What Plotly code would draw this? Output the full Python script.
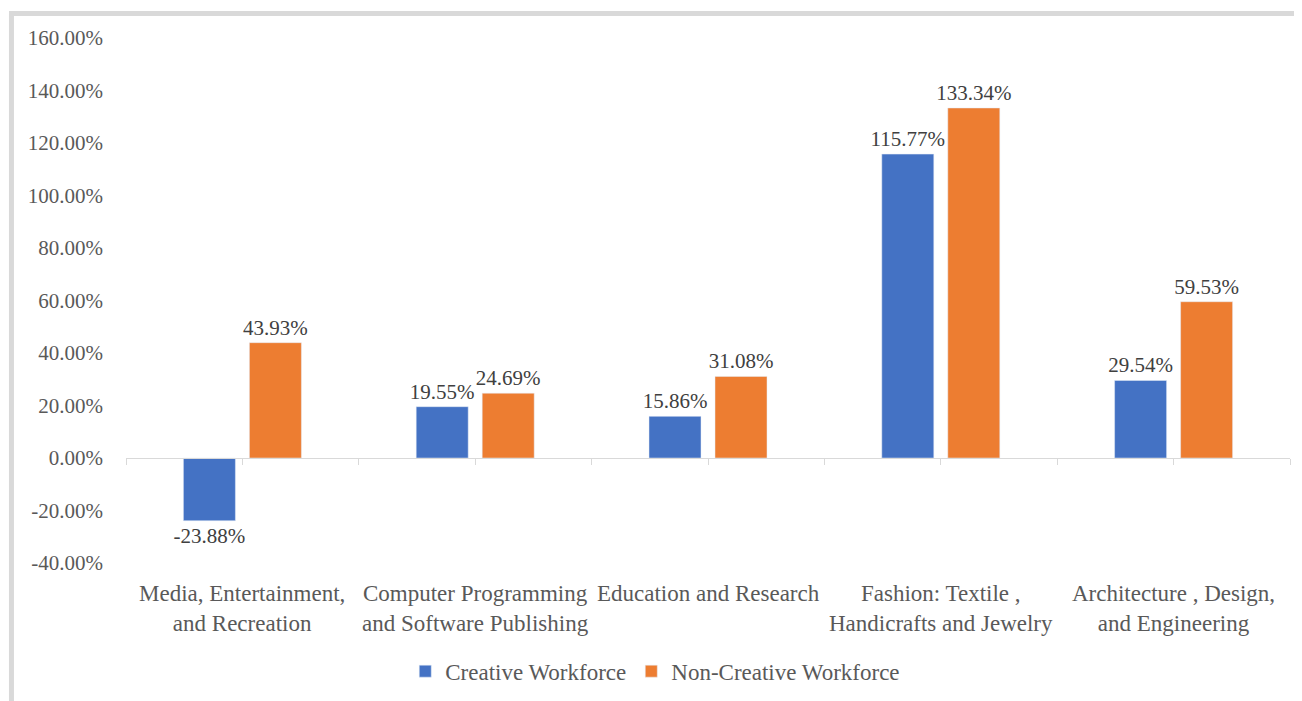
"""
Grouped bar chart: change in creative vs non-creative workforce by sector.
"""
import plotly.graph_objects as go

categories = [
    "Media, Entertainment,<br>and Recreation",
    "Computer Programming<br>and Software Publishing",
    "Education and Research",
    "Fashion: Textile ,<br>Handicrafts and Jewelry",
    "Architecture , Design,<br>and Engineering",
]
creative = [-23.88, 19.55, 15.86, 115.77, 29.54]
non_creative = [43.93, 24.69, 31.08, 133.34, 59.53]
y_ticks = [-40, -20, 0, 20, 40, 60, 80, 100, 120, 140, 160]
y_tick_labels = [f"{v:.2f}%" for v in y_ticks]

FONT = "Liberation Serif"
GREY = "#595959"
LINE = "#d9d9d9"

pos = list(range(len(categories)))

fig = go.Figure()
fig.add_trace(go.Bar(
    x=pos, y=creative, name="Creative Workforce",
    marker_color="#4472c4",
    text=[f"{v:.2f}%" for v in creative],
))
fig.add_trace(go.Bar(
    x=pos, y=non_creative, name="Non-Creative Workforce",
    marker_color="#ed7d31",
    text=[f"{v:.2f}%" for v in non_creative],
))
fig.update_traces(
    textposition="outside", cliponaxis=False, constraintext="none",
    textfont=dict(family=FONT, size=21, color="#404040"),
    hoverinfo="x+y+name",
)

# category labels sit at the bottom of the plot, the axis itself runs along zero
annotations = [
    dict(text=c, x=i, xref="x", y=0, yref="paper", yanchor="top",
         yshift=-16, showarrow=False, align="center",
         font=dict(family=FONT, size=23, color=GREY))
    for i, c in zip(pos, categories)
]

half_ticks = [i / 2 for i in range(-1, 2 * len(categories))]

fig.update_layout(
    width=1294, height=693,
    margin=dict(l=118, r=12, t=30, b=138),
    plot_bgcolor="white", paper_bgcolor="white",
    font=dict(family=FONT, size=21, color=GREY),
    barmode="group", bargap=0.433, bargroupgap=0.212,
    showlegend=True,
    legend=dict(orientation="h", xref="container", yref="container",
                x=0.307, xanchor="left", y=0.043, yanchor="middle",
                font=dict(family=FONT, size=23, color=GREY), itemwidth=30),
    xaxis=dict(
        range=[-0.5, len(categories) - 0.5],
        anchor="free", position=0.2,
        showline=True, linecolor=LINE, linewidth=1,
        tickvals=half_ticks, showticklabels=False,
        ticks="outside", ticklen=6, tickcolor=LINE, tickwidth=1,
        showgrid=False, zeroline=False,
    ),
    yaxis=dict(
        range=[-40, 160], tickvals=y_ticks, ticktext=y_tick_labels,
        showgrid=False, zeroline=False, showline=False,
        ticks="", ticklabelstandoff=22,
        tickfont=dict(family=FONT, size=21, color=GREY),
    ),
    annotations=annotations,
    shapes=[
        dict(type="line", xref="paper", yref="paper",
             x0=-0.0984, x1=-0.0984, y0=-0.35, y1=1.0467,
             line=dict(color=LINE, width=5)),
        dict(type="line", xref="paper", yref="paper",
             x0=-0.1005, x1=1.2, y0=1.0467, y1=1.0467,
             line=dict(color=LINE, width=5)),
    ],
)

fig.write_html("out.html")
